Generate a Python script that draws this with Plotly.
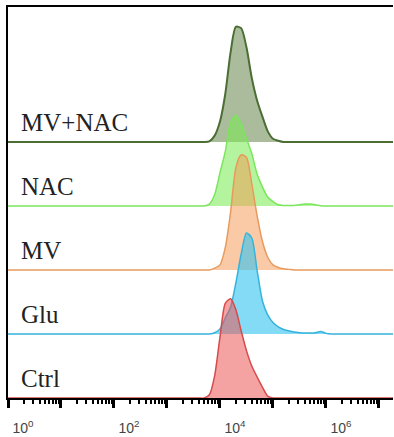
import plotly.graph_objects as go

# Histogram bins (log10 of fluorescence intensity)
bin_log = [3.5, 3.6, 3.7, 3.8, 3.9, 4.0, 4.1, 4.2, 4.3, 4.4, 4.5, 4.6, 4.7, 4.8,
           4.9, 5.0, 5.1, 5.2, 5.3, 5.4, 5.5, 5.6, 5.7, 5.8, 5.9, 6.0, 6.1, 6.2]
edge_log = [-0.1, 7.5]   # empty outer bins

groups = ["MV+NAC", "NAC", "MV", "Glu", "Ctrl"]

counts_mvnac = [0, 0, 0, 1, 10, 32, 75, 140, 180, 178, 148, 100, 65, 40,
                17, 5, 2, 0, 0, 0, 0, 0, 0, 0, 0, 0, 0, 0]
counts_nac = [0, 0, 0, 3, 18, 52, 85, 130, 142, 128, 105, 82, 50, 30,
              14, 7, 2, 1, 1, 1, 2, 3, 3, 2, 0.5, 0, 0, 0]
counts_mv = [0, 0, 0, 0, 3, 8, 35, 90, 160, 180, 176, 135, 85, 45,
             20, 8, 4, 2, 1, 0, 0, 0, 0, 0, 0, 0, 0, 0]
counts_glu = [0, 0, 0, 0, 2, 8, 25, 42, 80, 125, 158, 150, 100, 52,
              30, 18, 11, 7, 5, 3, 2, 1.5, 1.5, 2, 4, 1, 0, 0]
counts_ctrl = [0, 0, 0, 5, 35, 95, 148, 155, 138, 105, 74, 50, 33, 17,
               3, 0, 0, 0, 0, 0, 0, 0, 0, 0, 0, 0, 0, 0]

series_counts = [counts_mvnac, counts_nac, counts_mv, counts_glu, counts_ctrl]
offsets = [400, 300, 200, 100, 0]
line_colors = ["#4b6e35", "#7be55c", "#e89a5c", "#36b3dc", "#d64b4b"]
fill_colors = ["rgba(110,140,85,0.58)", "rgba(120,235,80,0.55)",
               "rgba(245,150,80,0.5)", "rgba(50,195,240,0.6)",
               "rgba(235,85,85,0.55)"]
line_widths = [2, 1.5, 1.5, 1.5, 1.5]

tick_decades = [0, 1, 2, 3, 4, 5, 6, 7]
tick_labels = ["10<sup>0</sup>", "", "10<sup>2</sup>", "", "10<sup>4</sup>", "",
               "10<sup>6</sup>", ""]

xs = [10 ** v for v in [edge_log[0]] + bin_log + [edge_log[1]]]

fig = go.Figure()
for name, cnt, off, lc, fc, lw in zip(groups, series_counts, offsets,
                                      line_colors, fill_colors, line_widths):
    ys = [off] + [off + c for c in cnt] + [off]
    fig.add_trace(go.Scatter(x=xs, y=[off] * len(xs), mode="lines",
                             line=dict(width=0), hoverinfo="skip",
                             showlegend=False))
    fig.add_trace(go.Scatter(x=xs, y=ys, mode="lines", name=name,
                             line=dict(color=lc, width=lw, shape="spline",
                                       smoothing=0.7),
                             fill="tonexty", fillcolor=fc, showlegend=False))
    fig.add_annotation(x=0.028, xref="paper", y=off + 6, yref="y",
                       text=name, showarrow=False, xanchor="left",
                       yanchor="bottom",
                       font=dict(family="Liberation Serif", size=25,
                                 color="#222222"))

minor_vals = [k * 10 ** d for d in range(-1, 8) for k in range(2, 10)]

fig.update_xaxes(type="log", range=[0, 7.265],
                 tickmode="array",
                 tickvals=[10 ** d for d in tick_decades],
                 ticktext=tick_labels,
                 ticks="outside", ticklen=8, tickwidth=2.5, tickcolor="black",
                 showline=True, linecolor="black", linewidth=1.5, mirror=True,
                 showgrid=False, zeroline=False,
                 ticklabelshift=15, ticklabelstandoff=8,
                 tickfont=dict(family="Liberation Sans", size=14,
                               color="#444444"),
                 minor=dict(tickmode="array", tickvals=minor_vals,
                            ticks="outside", ticklen=4, tickwidth=1.5,
                            tickcolor="black", showgrid=False))
fig.update_yaxes(range=[0, 611], showticklabels=False, ticks="",
                 showline=True, linecolor="black", linewidth=1.5,
                 showgrid=False, zeroline=False)

fig.update_layout(width=394, height=437,
                  margin=dict(l=8, r=1, t=7, b=39),
                  paper_bgcolor="white", plot_bgcolor="white",
                  showlegend=False)

fig.write_html("out.html")
